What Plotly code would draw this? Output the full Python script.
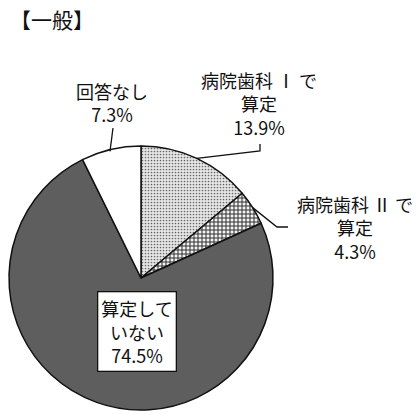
import math
import plotly.graph_objects as go

# Survey answers (general hospitals)
categories = ["病院歯科Ⅰで算定", "病院歯科Ⅱで算定", "算定していない", "回答なし"]
shares = [13.9, 4.3, 74.5, 7.3]
label_lines = [
    ["病院歯科 Ⅰ で", "算定"],
    ["病院歯科 Ⅱ で", "算定"],
    ["算定して", "いない"],
    ["回答なし"],
]

W, H = 418, 415
FONT = "Noto Sans CJK JP"

# Pie placement in pixels (top-left origin)
cx, cy, r = 141, 278, 132


def px(x):
    return x / W


def py(y):
    return 1 - y / H


fig = go.Figure()
fig.add_trace(go.Pie(
    labels=categories,
    values=shares,
    sort=False,
    direction="clockwise",
    rotation=0,
    textinfo="none",
    hoverinfo="label+percent",
    showlegend=False,
    domain=dict(x=[px(cx - r), px(cx + r)], y=[py(cy + r), py(cy - r)]),
    marker=dict(
        colors=["#dcdcdc", "#ffffff", "#5e5e5e", "#ffffff"],
        line=dict(color="#111111", width=1.5),
        pattern=dict(
            shape=[".", "+", "", ""],
            fgcolor=["#6a6a6a", "#333333", "#5e5e5e", "#ffffff"],
            bgcolor=["#e6e6e6", "#f2f2f2", "#5e5e5e", "#ffffff"],
            size=[3, 4, 4, 4],
            solidity=[0.25, 0.45, 0.2, 0.2],
            fillmode="replace",
        ),
    ),
))


def edge_point(frac):
    """Point on the pie rim at a cumulative fraction (clockwise from 12 o'clock)."""
    a = 2 * math.pi * frac
    return cx + r * math.sin(a), cy - r * math.cos(a)


total = sum(shares)
cum = []
acc = 0
for v in shares:
    cum.append((acc + v / 2) / total)
    acc += v


def leader(points):
    path = "M " + " L ".join(f"{px(x)},{py(y)}" for x, y in points)
    fig.add_shape(type="path", path=path, xref="paper", yref="paper",
                  line=dict(color="#111111", width=1.3))


# Leader lines from slice midpoints on the rim
x1, y1 = edge_point(cum[0])
leader([(x1, y1), (260, 151), (260, 144)])
x2, y2 = edge_point(cum[1])
leader([(x2, y2), (277, 227), (288, 227)])
x4, y4 = edge_point(cum[3])
leader([(x4 - 1, y4 + 2), (113, 128)])


def label(x, y, lines, value, **kw):
    text = "<br>".join(lines + [f"{value:.1f}%"])
    fig.add_annotation(x=px(x), y=py(y), xref="paper", yref="paper",
                       xanchor="center", yanchor="middle",
                       text=text, showarrow=False, align="center",
                       font=dict(family=FONT, size=18, color="#111111"), **kw)


label(259, 104, label_lines[0], shares[0])
label(355, 227, label_lines[1], shares[1])
label(112, 102, label_lines[3], shares[3])
label(137, 331, label_lines[2], shares[2],
      bgcolor="#ffffff", bordercolor="#111111", borderwidth=1.3, borderpad=3)

fig.add_annotation(x=px(8), y=py(19), xref="paper", yref="paper",
                   xanchor="left", yanchor="middle", text="【一般】",
                   showarrow=False,
                   font=dict(family=FONT, size=21, color="#111111"))

fig.update_layout(
    width=W, height=H,
    margin=dict(l=0, r=0, t=0, b=0),
    paper_bgcolor="#ffffff",
    plot_bgcolor="#ffffff",
)

fig.write_html("out.html")
